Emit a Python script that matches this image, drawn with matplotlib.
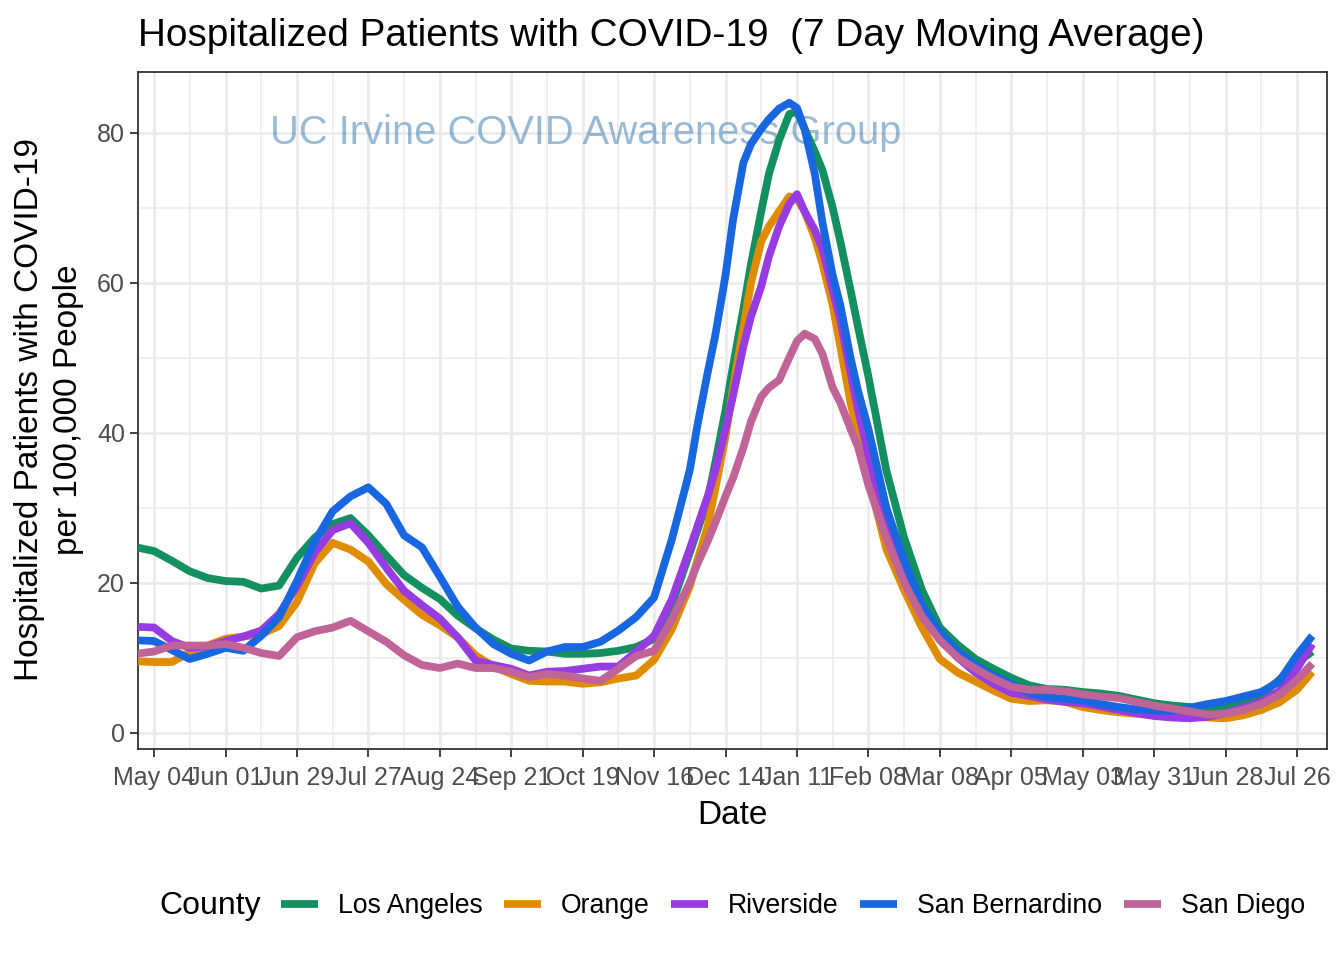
import matplotlib
matplotlib.use("Agg")
import matplotlib.pyplot as plt
import pandas as pd
from matplotlib.lines import Line2D
from matplotlib.ticker import FixedLocator, FixedFormatter
import matplotlib.dates as mdates

plt.rcParams['font.family'] = ['Liberation Sans', 'DejaVu Sans']

# ---------------- data ----------------
date_strings = [
    "2020-04-27", "2020-05-04", "2020-05-11", "2020-05-18", "2020-05-25", "2020-06-01",
    "2020-06-08", "2020-06-15", "2020-06-22", "2020-06-29", "2020-07-06", "2020-07-13",
    "2020-07-20", "2020-07-27", "2020-08-03", "2020-08-10", "2020-08-17", "2020-08-24",
    "2020-08-31", "2020-09-07", "2020-09-14", "2020-09-21", "2020-09-28", "2020-10-05",
    "2020-10-12", "2020-10-19", "2020-10-26", "2020-11-02", "2020-11-09", "2020-11-16",
    "2020-11-23", "2020-11-30",
    "2020-12-03", "2020-12-07", "2020-12-10", "2020-12-14", "2020-12-17", "2020-12-21",
    "2020-12-24", "2020-12-28", "2020-12-31", "2021-01-04", "2021-01-08", "2021-01-11",
    "2021-01-14", "2021-01-18", "2021-01-21", "2021-01-25", "2021-01-28", "2021-02-01",
    "2021-02-04", "2021-02-08",
    "2021-02-15", "2021-02-22", "2021-03-01", "2021-03-08", "2021-03-15", "2021-03-22",
    "2021-03-29", "2021-04-05", "2021-04-12", "2021-04-19", "2021-04-26", "2021-05-03",
    "2021-05-10", "2021-05-17", "2021-05-24", "2021-05-31", "2021-06-07", "2021-06-14",
    "2021-06-21", "2021-06-28", "2021-07-05", "2021-07-12", "2021-07-19", "2021-07-26",
    "2021-08-01",
]

los_angeles = [
    24.7, 24.2, 22.9, 21.5, 20.6, 20.2, 20.1, 19.2, 19.6, 23.3, 26.0, 27.8,
    28.6, 26.3, 23.6, 21.0, 19.3, 17.8, 15.6, 13.9, 12.4, 11.2, 10.9, 10.8,
    10.5, 10.5, 10.6, 10.9, 11.4, 12.5, 17.1, 24.0,
    27.0, 31.0, 36.0, 43.0, 49.0, 56.5, 62.5, 69.5, 74.5, 79.0, 82.5, 82.8,
    80.5, 77.5, 75.0, 70.0, 65.5, 59.0, 54.0, 47.5,
    35.0, 26.0, 19.0, 14.0, 11.7, 9.8, 8.5, 7.3, 6.3, 5.8, 5.7, 5.4,
    5.2, 4.9, 4.4, 3.9, 3.6, 3.4, 3.2, 3.6, 4.2, 5.0, 7.0, 9.3,
    10.8,
]

orange = [
    9.5, 9.4, 9.4, 10.7, 11.6, 12.5, 12.8, 13.1, 14.2, 17.4, 22.6, 25.3,
    24.4, 22.8, 19.8, 17.7, 15.7, 14.3, 12.7, 10.3, 8.8, 7.8, 6.9, 6.8,
    6.8, 6.5, 6.7, 7.2, 7.6, 9.7, 13.8, 19.5,
    23.0, 27.5, 32.5, 39.5, 46.0, 54.0, 60.0, 65.5, 67.5, 69.5, 71.5, 71.2,
    69.5, 66.0, 62.5, 57.0, 51.5, 44.0, 39.5, 34.0,
    24.5, 19.0, 14.0, 9.8, 8.0, 6.8, 5.6, 4.5, 4.2, 4.3, 4.1, 3.4,
    3.0, 2.7, 2.5, 2.3, 2.2, 2.1, 2.0, 1.9, 2.3, 3.0, 4.0, 5.7,
    8.1,
]

riverside = [
    14.1, 14.0, 12.2, 11.3, 11.5, 12.2, 12.8, 13.6, 15.8, 19.5, 24.0, 27.0,
    27.9, 25.3, 22.0, 18.9, 17.0, 15.2, 12.7, 9.6, 9.0, 8.5, 7.6, 8.1,
    8.2, 8.5, 8.8, 8.8, 10.8, 12.9, 17.8, 24.5,
    27.5, 31.5, 35.0, 40.5, 45.0, 51.5, 55.5, 59.5, 63.5, 67.5, 70.5, 71.8,
    69.5, 67.0, 64.5, 59.0, 55.0, 48.0, 43.0, 37.0,
    27.5, 21.5, 16.0, 13.0, 10.0, 8.0, 6.5, 5.3, 4.9, 4.4, 4.1, 3.9,
    3.5, 3.0, 2.6, 2.2, 2.0, 1.9, 2.1, 2.6, 3.3, 4.1, 5.5, 8.5,
    11.8,
]

san_bernardino = [
    12.3, 12.2, 11.0, 9.8, 10.5, 11.3, 10.9, 12.9, 15.4, 20.2, 25.5, 29.5,
    31.5, 32.7, 30.5, 26.3, 24.7, 20.8, 16.8, 14.0, 11.8, 10.5, 9.6, 10.8,
    11.4, 11.4, 12.1, 13.6, 15.4, 18.0, 25.8, 35.0,
    41.0, 48.0, 53.0, 61.0, 68.5, 76.0, 78.5, 80.5, 81.8, 83.2, 84.0, 83.3,
    80.5, 74.5, 68.0, 61.0, 57.0, 50.0, 45.5, 40.5,
    30.0, 23.0, 17.0, 13.4, 10.8, 9.0, 7.6, 6.5, 5.3, 4.7, 4.5, 4.3,
    3.8, 3.4, 3.1, 2.9, 2.9, 3.3, 3.8, 4.2, 4.8, 5.4, 6.8, 10.3,
    12.9,
]

san_diego = [
    10.5, 10.8, 11.6, 11.6, 11.6, 11.8, 11.3, 10.6, 10.2, 12.7, 13.5, 14.0,
    14.9, 13.5, 12.1, 10.3, 9.0, 8.6, 9.2, 8.6, 8.6, 8.1, 7.4, 7.8,
    7.6, 7.2, 6.9, 8.5, 10.2, 10.9, 15.1, 20.0,
    22.5, 25.5, 28.0, 31.5, 34.0, 38.0, 41.5, 44.8, 46.0, 47.0, 50.0, 52.2,
    53.2, 52.5, 50.5, 46.0, 44.0, 40.5, 38.0, 33.0,
    26.0, 20.0, 15.5, 12.3, 10.0, 8.5, 7.2, 6.1, 5.7, 5.7, 5.5, 5.1,
    4.8, 4.6, 4.1, 3.6, 3.2, 2.8, 2.4, 2.5, 3.0, 3.8, 5.0, 7.0,
    9.2,
]

counties = ["Los Angeles", "Orange", "Riverside", "San Bernardino", "San Diego"]
county_values = [los_angeles, orange, riverside, san_bernardino, san_diego]
county_colors = ["#148F5F", "#E08C00", "#973BE2", "#1967E0", "#C06497"]

tick_dates = ["2020-05-04", "2020-06-01", "2020-06-29", "2020-07-27", "2020-08-24",
              "2020-09-21", "2020-10-19", "2020-11-16", "2020-12-14", "2021-01-11",
              "2021-02-08", "2021-03-08", "2021-04-05", "2021-05-03", "2021-05-31",
              "2021-06-28", "2021-07-26"]
tick_labels = ["May 04", "Jun 01", "Jun 29", "Jul 27", "Aug 24", "Sep 21", "Oct 19",
               "Nov 16", "Dec 14", "Jan 11", "Feb 08", "Mar 08", "Apr 05", "May 03",
               "May 31", "Jun 28", "Jul 26"]
y_ticks = [0, 20, 40, 60, 80]
y_minor = [10, 30, 50, 70]

title_text = "Hospitalized Patients with COVID-19  (7 Day Moving Average)"
watermark = "UC Irvine COVID Awareness Group"

# ---------------- figure ----------------
W, H = 1344, 960
fig = plt.figure(figsize=(W / 100, H / 100), dpi=100)
fig.patch.set_facecolor("white")

px_l, px_r, px_t, px_b = 137.5, 1326.5, 72, 749
ax = fig.add_axes([px_l / W, 1 - px_b / H, (px_r - px_l) / W, (px_b - px_t) / H])

dates = pd.to_datetime(date_strings)
major = pd.to_datetime(tick_dates)
minor = major + pd.Timedelta(days=14)

ax.set_xlim(pd.Timestamp("2020-04-27 12:00"), pd.Timestamp("2021-08-06 14:00"))
ax.set_ylim(-2.2, 88.1)

ax.xaxis.set_major_locator(FixedLocator(mdates.date2num(major)))
ax.xaxis.set_major_formatter(FixedFormatter(tick_labels))
ax.xaxis.set_minor_locator(FixedLocator(mdates.date2num(minor)))
ax.set_yticks(y_ticks)
ax.set_yticks(y_minor, minor=True)

grid_col = "#EBEBEB"
ax.grid(which="major", color=grid_col, linewidth=2.0, zorder=0)
ax.grid(which="minor", color=grid_col, linewidth=1.1, zorder=0)
ax.set_axisbelow(True)

for sp in ax.spines.values():
    sp.set_color("#333333")
    sp.set_linewidth(1.3)

ax.tick_params(which="major", length=6, width=1.3, color="#333333",
               labelsize=18, labelcolor="#4D4D4D", pad=3)
ax.tick_params(axis="x", which="major", pad=6.5)
ax.tick_params(which="minor", length=0)

ax.text(pd.Timestamp("2020-10-20"), 78.5, watermark, ha="center", va="baseline",
        fontsize=28.7, color="steelblue", alpha=0.55, zorder=1)

for name, vals, col in zip(counties, county_values, county_colors):
    ax.plot(dates, vals, color=col, linewidth=5.6, solid_joinstyle="round",
            solid_capstyle="butt", zorder=3, clip_on=True)

# titles
fig.text(138 / W, 1 - 46 / H, title_text, ha="left", va="baseline",
         fontsize=27.9, color="black")
fig.text((px_l + px_r) / 2 / W, 1 - 824 / H, "Date", ha="center", va="baseline",
         fontsize=24, color="black")
fig.text(49 / W, 1 - 410 / H, "Hospitalized Patients with COVID-19\nper 100,000 People",
         ha="center", va="center", rotation=90, multialignment="center",
         fontsize=24, color="black", linespacing=1.3)

# legend
fig.text(159 / W, 1 - 906 / H, "County", ha="left", va="center", fontsize=23,
         color="black")
handles = [Line2D([0], [0], color=c, linewidth=5.6, solid_capstyle="butt")
           for c in county_colors]
fig.legend(handles, counties, loc="center left",
           bbox_to_anchor=(281 / W, 1 - 906 / H), ncol=5, frameon=False,
           fontsize=19.2, handlelength=1.39, handletextpad=0.75,
           columnspacing=0.8, borderpad=0, borderaxespad=0)

fig.savefig("out.png", dpi=100, facecolor="white")
